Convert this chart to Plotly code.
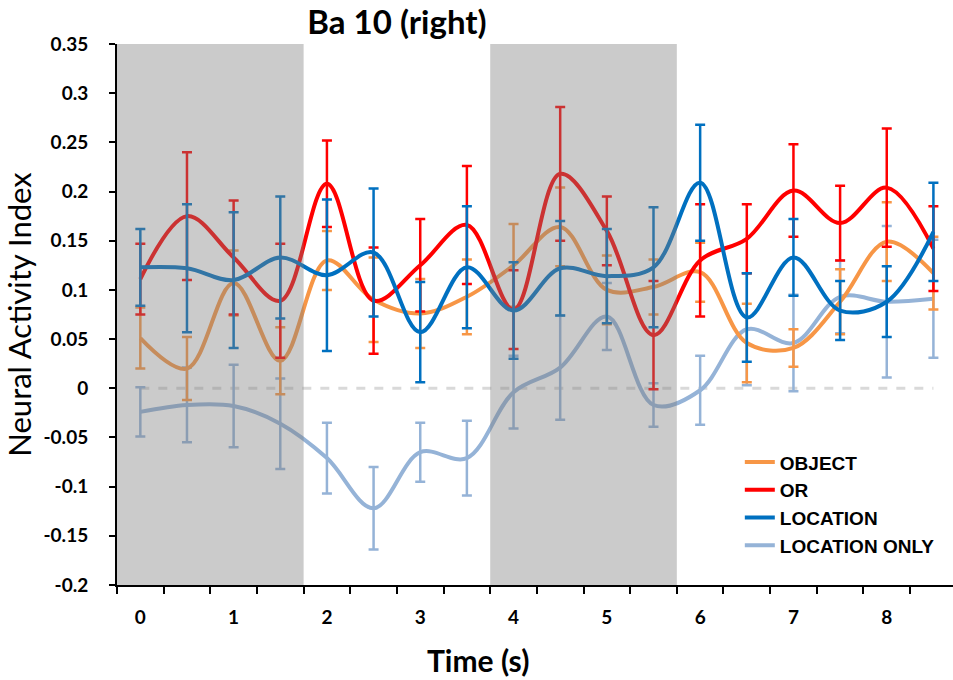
import plotly.graph_objects as go

# Time points (s) and per-condition mean neural activity index with error
time_s = [0, 0.5, 1, 1.5, 2, 2.5, 3, 3.5, 4, 4.5, 5, 5.5, 6, 6.5, 7, 7.5, 8, 8.5]

object_vals = [0.051, 0.020, 0.107, 0.028, 0.130, 0.090, 0.076, 0.093, 0.125,
               0.164, 0.100, 0.103, 0.118, 0.046, 0.041, 0.088, 0.149, 0.117]
object_err = [0.031, 0.032, 0.033, 0.034, 0.030, 0.043, 0.035, 0.038, 0.042,
              0.040, 0.035, 0.028, 0.030, 0.040, 0.019, 0.033, 0.040, 0.037]

or_vals = [0.111, 0.175, 0.133, 0.089, 0.208, 0.089, 0.125, 0.166, 0.080,
           0.218, 0.160, 0.054, 0.130, 0.152, 0.201, 0.168, 0.204, 0.142]
or_err = [0.036, 0.065, 0.058, 0.058, 0.044, 0.054, 0.047, 0.060, 0.040,
          0.068, 0.035, 0.055, 0.057, 0.035, 0.047, 0.038, 0.060, 0.043]

location_vals = [0.123, 0.122, 0.110, 0.133, 0.115, 0.138, 0.057, 0.123, 0.079,
                 0.122, 0.114, 0.123, 0.209, 0.072, 0.133, 0.079, 0.088, 0.159]
location_err = [0.039, 0.065, 0.069, 0.062, 0.077, 0.065, 0.051, 0.062, 0.049,
                0.048, 0.048, 0.061, 0.059, 0.045, 0.039, 0.030, 0.036, 0.050]

loc_only_vals = [-0.024, -0.017, -0.018, -0.036, -0.071, -0.122, -0.065, -0.071, -0.004,
                 0.021, 0.073, -0.017, -0.002, 0.060, 0.046, 0.093, 0.088, 0.091]
loc_only_err = [0.025, 0.038, 0.042, 0.046, 0.036, 0.042, 0.030, 0.038, 0.037,
                0.053, 0.034, 0.022, 0.035, 0.057, 0.049, 0.037, 0.077, 0.060]

# Shaded task epochs (s)
epochs = [(-0.25, 1.75), (3.75, 5.75)]

x_tick_vals = [0, 1, 2, 3, 4, 5, 6, 7, 8]
x_tick_text = ["0", "1", "2", "3", "4", "5", "6", "7", "8"]
y_tick_vals = [0.35, 0.3, 0.25, 0.2, 0.15, 0.1, 0.05, 0, -0.05, -0.1, -0.15, -0.2]
y_tick_text = ["0.35", "0.3", "0.25", "0.2", "0.15", "0.1", "0.05", "0",
               "-0.05", "-0.1", "-0.15", "-0.2"]

series = [
    ("LOCATION ONLY", loc_only_vals, loc_only_err, "#95B3D7", 4),
    ("OBJECT", object_vals, object_err, "#F79646", 1),
    ("OR", or_vals, or_err, "#FF0000", 2),
    ("LOCATION", location_vals, location_err, "#0070C0", 3),
]

fig = go.Figure()

# zero reference line
fig.add_trace(go.Scatter(
    x=[time_s[0], time_s[-1]], y=[0, 0], mode="lines",
    line=dict(color="#D9D9D9", width=3, dash="dash"),
    showlegend=False, hoverinfo="skip",
))

for name, vals, err, color, rank in series:
    fig.add_trace(go.Scatter(
        x=time_s, y=vals, name=name, mode="lines",
        line=dict(color=color, width=4, shape="spline", smoothing=1.0),
        error_y=dict(type="data", array=err, visible=True,
                     color=color, thickness=2.5, width=5),
        legendrank=rank,
    ))

shapes = []
for x0, x1 in epochs:
    shapes.append(dict(
        type="rect", xref="x", yref="y", x0=x0, x1=x1, y0=-0.2, y1=0.35,
        fillcolor="rgba(125,125,125,0.4)", line=dict(width=0), layer="above",
    ))

font_main = "Lato, 'Open Sans', sans-serif"

fig.update_layout(
    width=953, height=680,
    margin=dict(l=117, r=0, t=44, b=95),
    plot_bgcolor="white", paper_bgcolor="white",
    shapes=shapes,
    title=dict(text="<b>Ba 10 (right)</b>", x=397 / 953, xanchor="center",
               y=1 - 22 / 680, yanchor="middle",
               font=dict(family=font_main, size=33, color="black")),
    showlegend=True,
    legend=dict(x=0.745, y=0.262, xanchor="left", yanchor="top",
                bgcolor="rgba(0,0,0,0)", tracegroupgap=0,
                font=dict(family="'Liberation Sans', Arial, sans-serif",
                          size=19, color="black", weight="bold"),
                itemwidth=30),
    annotations=[dict(
        text="<b>Time (s)</b>", xref="paper", yref="paper",
        x=(478 - 117) / 836, y=(585 - 660) / 541,
        xanchor="center", yanchor="middle", showarrow=False,
        font=dict(family=font_main, size=30, color="black"),
    )],
    xaxis=dict(
        range=[-0.25, 8.71], tickmode="array",
        tickvals=x_tick_vals, ticktext=x_tick_text, ticks="",
        ticklabelstandoff=14,
        tickfont=dict(family=font_main, size=19, color="black", weight="bold"),
        showline=True, linecolor="black", linewidth=2,
        showgrid=False, zeroline=False,
        minor=dict(ticks="outside", tick0=-0.25, dtick=0.5, ticklen=7,
                   tickwidth=2, tickcolor="black", showgrid=False),
    ),
    yaxis=dict(
        range=[-0.2, 0.35], tickmode="array",
        tickvals=y_tick_vals, ticktext=y_tick_text,
        ticks="outside", ticklen=6, tickwidth=2, tickcolor="black",
        ticklabelstandoff=17,
        tickfont=dict(family=font_main, size=19, color="black", weight="bold"),
        showline=True, linecolor="black", linewidth=2,
        showgrid=False, zeroline=False,
        title=dict(text="Neural Activity Index", standoff=6,
                   font=dict(family=font_main, size=31, color="black")),
    ),
)

fig.write_html("out.html")
